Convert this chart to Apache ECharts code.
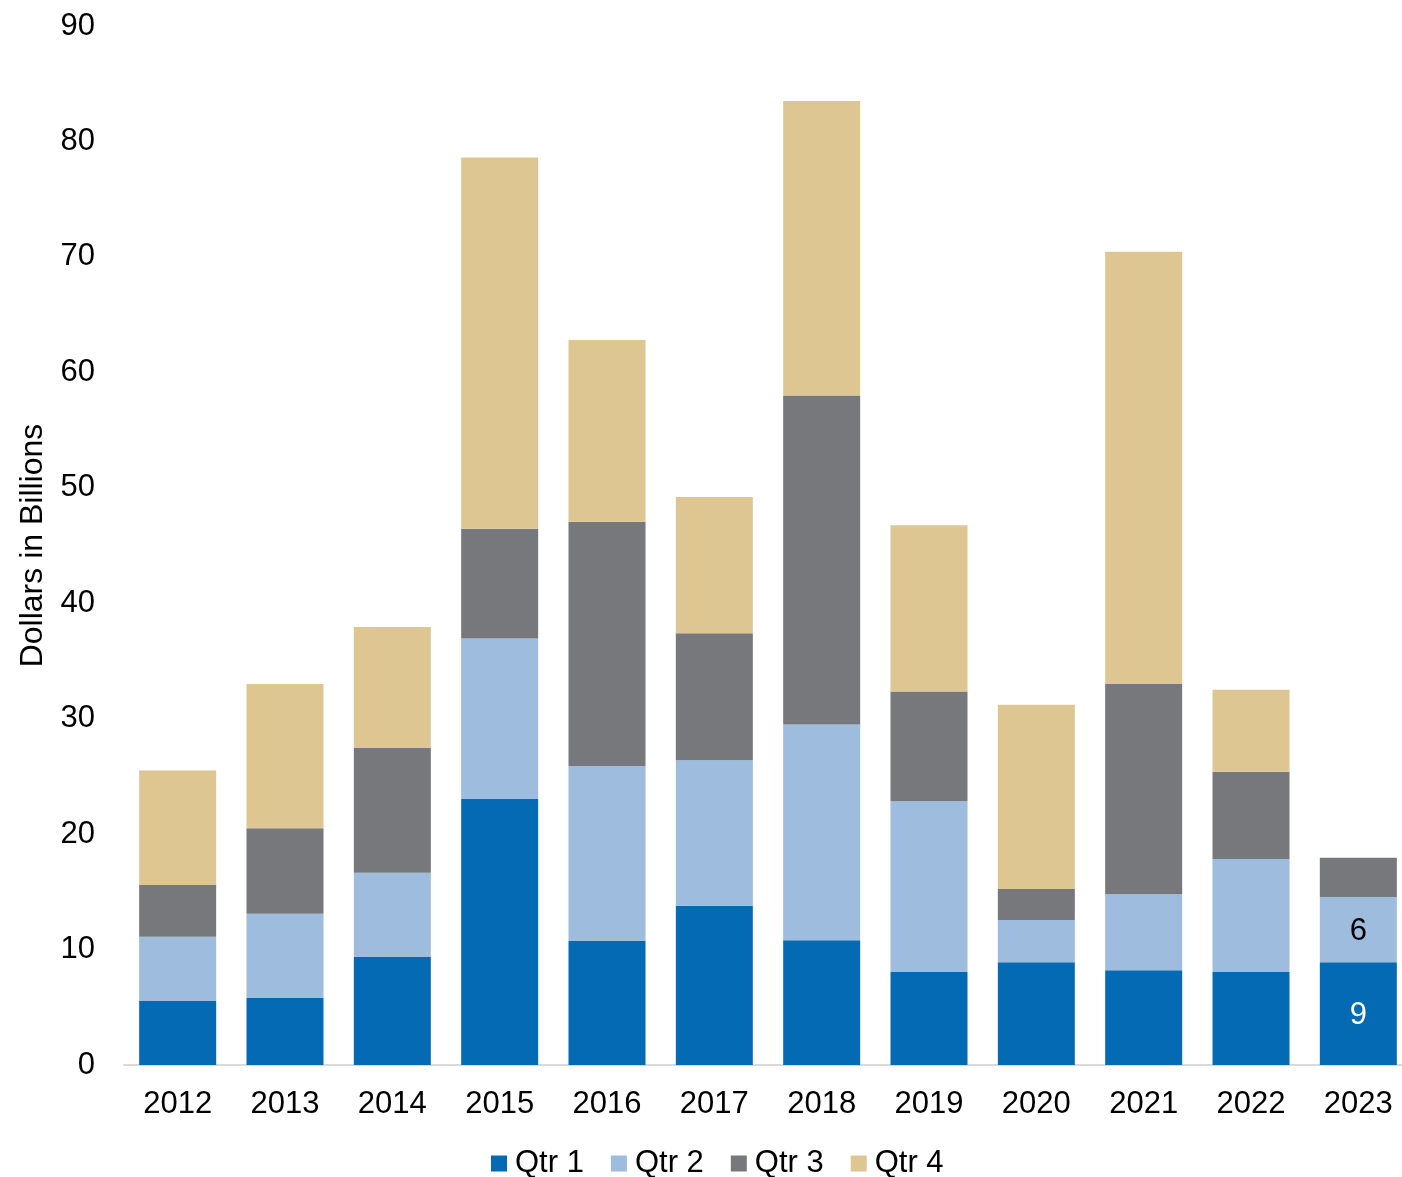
<!DOCTYPE html>
<html>
<head>
<meta charset="utf-8">
<script src="https://cdn.jsdelivr.net/npm/echarts@6/dist/echarts.min.js"></script>
<style>
html,body{margin:0;padding:0;background:#fff;overflow:hidden;}
#chart{width:1412px;height:1177px;}
</style>
</head>
<body>
<div id="chart"></div>
<script>
var years = ['2012','2013','2014','2015','2016','2017','2018','2019','2020','2021','2022','2023'];
var qtr1 = [5.55, 5.8, 9.35, 23.05, 10.75, 13.8, 10.8, 8.05, 8.9, 8.2, 8.05, 8.9];
var qtr2 = [5.55, 7.3, 7.3, 13.9, 15.15, 12.6, 18.7, 14.8, 3.65, 6.6, 9.8, 5.65];
var qtr3 = [4.5, 7.4, 10.8, 9.5, 21.15, 11.0, 28.5, 9.5, 2.7, 18.2, 7.55, 3.4];
var qtr4 = [9.9, 12.5, 10.5, 32.15, 15.75, 11.8, 25.5, 14.4, 15.95, 37.45, 7.1, null];
var seriesNames = ['Qtr 1','Qtr 2','Qtr 3','Qtr 4'];
var colors = ['#056AB4','#9DBCDE','#77787B','#DDC692'];
var labelYear = '2023';

var FONT = '"Liberation Sans", Arial, sans-serif';
var chart = echarts.init(document.getElementById('chart'));

function labelFor(color) {
  return {
    show: true,
    position: 'inside',
    color: color,
    fontFamily: FONT,
    fontSize: 31,
    offset: [0, 2],
    formatter: function (p) {
      return p.name === labelYear ? Math.round(p.value) : '';
    }
  };
}

var dataSets = [qtr1, qtr2, qtr3, qtr4];
var series = dataSets.map(function (d, i) {
  var s = {
    name: seriesNames[i],
    type: 'bar',
    stack: 'total',
    barWidth: 77,
    data: d,
    itemStyle: { color: colors[i] },
    emphasis: { disabled: true }
  };
  if (i === 0) s.label = labelFor('#ffffff');
  if (i === 1) s.label = labelFor('#000000');
  return s;
});

chart.setOption({
  animation: false,
  backgroundColor: '#ffffff',
  color: colors,
  textStyle: { fontFamily: FONT },
  grid: { left: 124, right: 0, top: 26, bottom: 112, containLabel: false },
  legend: {
    top: 1143,
    left: 486,
    data: seriesNames,
    itemWidth: 16,
    itemHeight: 16,
    itemGap: 27,
    icon: 'rect',
    textStyle: { fontFamily: FONT, fontSize: 31, color: '#000', padding: [0, 0, 0, 3] }
  },
  xAxis: {
    type: 'category',
    data: years,
    axisLine: { show: true, lineStyle: { color: '#D9D9D9', width: 2 } },
    axisTick: { show: false },
    axisLabel: { color: '#000', fontFamily: FONT, fontSize: 31, margin: 24 }
  },
  yAxis: {
    type: 'value',
    min: 0,
    max: 90,
    interval: 10,
    name: 'Dollars in Billions',
    nameLocation: 'middle',
    nameGap: 73,
    nameRotate: 90,
    nameTextStyle: { color: '#000', fontFamily: FONT, fontSize: 32 },
    splitLine: { show: false },
    axisLine: { show: false },
    axisTick: { show: false },
    axisLabel: { color: '#000', fontFamily: FONT, fontSize: 31, margin: 29 }
  },
  series: series
});
</script>
</body>
</html>
